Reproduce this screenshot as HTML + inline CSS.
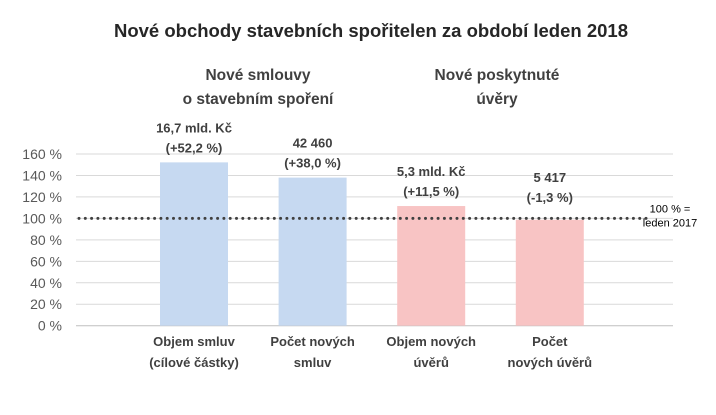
<!DOCTYPE html>
<html><head><meta charset="utf-8"><style>
body{margin:0;background:#fff;font-family:"Liberation Sans",sans-serif}
svg text{font-family:"Liberation Sans",sans-serif}
</style></head><body>
<svg id="chart" width="716" height="410">
<text x="371" y="37" text-anchor="middle" font-size="18.5" font-weight="bold" fill="#262626">Nové obchody stavebních spořitelen za období leden 2018</text>
<g font-size="15.5" font-weight="bold" fill="#404040" text-anchor="middle">
<text x="258" y="80"><tspan x="258">Nové smlouvy</tspan><tspan x="258" dy="24">o stavebním spoření</tspan></text>
<text x="497" y="80"><tspan x="497">Nové poskytnuté</tspan><tspan x="497" dy="24">úvěry</tspan></text>
</g>
<g id="grid"></g><g id="bars"></g><g id="labels"></g>
</svg>
<script>
const categories1=["Objem smluv","Počet  nových","Objem nových","Počet"];
const categories2=["(cílové částky)","smluv","úvěrů","nových úvěrů"];
const values=[152.2,138.0,111.5,98.7];
const valueLabels1=["16,7 mld. Kč","42 460","5,3 mld. Kč","5 417"];
const valueLabels2=["(+52,2 %)","(+38,0 %)","(+11,5 %)","(-1,3 %)"];
const ticks=[0,20,40,60,80,100,120,140,160];
const colors=["#c6d9f1","#c6d9f1","#f8c4c4","#f8c4c4"];
const refValue=100;
const NS="http://www.w3.org/2000/svg";
const x0=76,x1=673,yBase=325.7,yTop=154,vMax=160;
const y=v=>yBase-(v/vMax)*(yBase-yTop);
const step=118.6;
const xc=i=>194+step*i;
function mk(tag,attrs,parent){const e=document.createElementNS(NS,tag);for(const k in attrs)e.setAttribute(k,attrs[k]);parent.appendChild(e);return e;}
const grid=document.getElementById('grid'),bars=document.getElementById('bars'),labels=document.getElementById('labels');
ticks.forEach(t=>{
 const l=mk('line',{x1:x0,x2:x1,y1:y(t),y2:y(t),stroke:t===0?'#bfbfbf':'#d9d9d9','stroke-width':1},grid);
 
 
 const tx=mk('text',{x:62,y:y(t)+5,'text-anchor':'end','font-size':14,fill:'#595959'},grid);
 tx.textContent=t+' %';
 
 
});
values.forEach((v,i)=>{
 const r=mk('rect',{x:xc(i)-34,y:y(v),width:68,height:yBase-y(v),fill:colors[i]},bars);
 
 
 const off=i===3?38:30;
 const t=mk('text',{x:xc(i),y:y(v)-off,'text-anchor':'middle','font-size':13,'font-weight':'bold',fill:'#404040'},labels);
 
 
 const a=mk('tspan',{x:xc(i)},t);a.textContent=valueLabels1[i];
 const b=mk('tspan',{x:xc(i),dy:20},t);b.textContent=valueLabels2[i];
 const c=mk('text',{x:xc(i),y:346,'text-anchor':'middle','font-size':13,'font-weight':'bold',fill:'#404040'},labels);
 
 
 const c1=mk('tspan',{x:xc(i)},c);c1.textContent=categories1[i];
 const c2=mk('tspan',{x:xc(i),dy:21},c);c2.textContent=categories2[i];
});
const ref=mk('line',{x1:x0+3,x2:648,y1:y(refValue),y2:y(refValue),stroke:'#404040','stroke-width':3,'stroke-dasharray':'0 6.3','stroke-linecap':'round'},labels);


const rt=mk('text',{x:670,y:y(refValue)-6,'text-anchor':'middle','font-size':11,fill:'#000'},labels);


const r1=mk('tspan',{x:670},rt);r1.textContent='100 % =';
const r2=mk('tspan',{x:670,dy:14},rt);r2.textContent='leden 2017';
</script>
</body></html>
